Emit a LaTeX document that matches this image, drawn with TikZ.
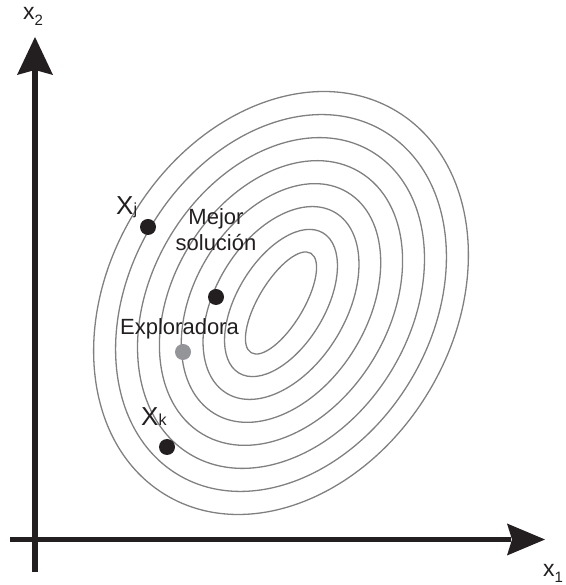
\documentclass[tikz,border=0pt]{standalone}
\usepackage{fontspec}
\setmainfont{Liberation Sans}
\begin{document}
\begin{tikzpicture}[x=1pt,y=1pt,
  ell/.style={draw=ellgray, line width=1.3pt},
  axisline/.style={draw=axisblack, line width=5.5pt},
  headfill/.style={fill=axisblack, draw=none},
  dotblack/.style={circle, fill=axisblack, minimum size=16pt, inner sep=0pt},
  dotgray/.style={circle, fill=dotg, minimum size=16pt, inner sep=0pt},
  lbl/.style={inner sep=0pt, anchor=base west, text=axisblack},
]
\definecolor{axisblack}{HTML}{231F20}
\definecolor{ellgray}{HTML}{808080}
\definecolor{dotg}{HTML}{939598}
\useasboundingbox (0,0) rectangle (565,585);
% contour ellipses
\coordinate (C) at (281,282);
\foreach \i in {0,...,7}{
  \pgfmathsetmacro\ra{58+23.7*\i}
  \pgfmathsetmacro\rb{22.5+21.4*\i}
  \draw[ell, rotate around={59:(C)}] (C) ellipse [x radius=\ra pt, y radius=\rb pt];
}
% axes
\coordinate (ybot) at (35,13);
\coordinate (ytop) at (35,516);
\coordinate (xleft) at (10,45.5);
\coordinate (xright) at (511,45.5);
\draw[axisline] (ybot) -- (ytop);
\draw[axisline] (xleft) -- (xright);
\fill[headfill] (35,548) -- (53,510) -- (35,515) -- (17,510) -- cycle;
\fill[headfill] (545,45.5) -- (507,61.5) -- (512,45.5) -- (507,29.5) -- cycle;
% axis labels
\node[lbl] (x2) at (23,565) {\fontsize{23}{23}\selectfont x\raisebox{-6pt}{\fontsize{15}{15}\selectfont 2}};
\node[lbl] (x1) at (543,9) {\fontsize{23}{23}\selectfont x\raisebox{-6pt}{\fontsize{15}{15}\selectfont 1}};
% points
\node[dotblack] (xj) at (148,358) {};
\node[dotblack] (best) at (216,288) {};
\node[dotgray] (expl) at (183,233) {};
\node[dotblack] (xk) at (167,138) {};
% labels
\node[lbl] (xjl) at (116,370) {\fontsize{26}{26}\selectfont X\fontsize{16}{16}\selectfont j};
\node[lbl] (xkl) at (141,159) {\fontsize{26}{26}\selectfont X\fontsize{16}{16}\selectfont k};
\node[inner sep=0pt, anchor=base, align=center, text=axisblack, font=\fontsize{22}{26}\selectfont] (bestl) at (216,334) {Mejor\\solución};
\node[lbl, font=\fontsize{22}{26}\selectfont] (expll) at (120,250) {Exploradora};
\end{tikzpicture}
\end{document}
